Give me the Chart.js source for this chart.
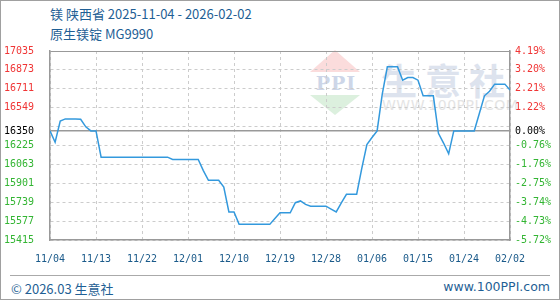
<!DOCTYPE html>
<html>
<head>
<meta charset="utf-8">
<script src="https://cdn.jsdelivr.net/npm/chart.js@4/dist/chart.umd.min.js"></script>
<style>
  html, body { margin: 0; padding: 0; background: #fff; }
  #page { position: relative; width: 560px; height: 300px; overflow: hidden; font-family: "Noto Sans CJK SC", "Noto Sans", sans-serif; }
  #frame { position: absolute; left: 0; top: 0; width: 558px; height: 298px; border: 1px solid #a0a0a0; z-index: 5; pointer-events: none; }
  .title { position: absolute; left: 50px; font-size: 13px; color: #1f5f95; white-space: nowrap; line-height: 16px; }
  #t1 { top: 6px; }
  #t2 { top: 26px; }
  #wm { position: absolute; left: 0; top: 0; width: 560px; height: 300px; z-index: 0; }
  .tri-up { position: absolute; left: 310px; top: 50px; width: 0; height: 0; border-left: 25px solid transparent; border-right: 25px solid transparent; border-bottom: 22px solid #fbdcdc; }
  .tri-down { position: absolute; left: 310px; top: 95px; width: 0; height: 0; border-left: 25px solid transparent; border-right: 25px solid transparent; border-top: 20px solid #dcf0de; }
  .ppi { position: absolute; left: 312px; top: 72px; width: 48px; text-align: center; font: bold 19px "DejaVu Serif", serif; color: #cdd6e8; letter-spacing: 1px; }
  .wmcn { position: absolute; left: 381px; top: 53px; font-size: 36px; font-weight: bold; color: #dde3ee; letter-spacing: 8px; white-space: nowrap; }
  .wmen { position: absolute; left: 382px; top: 97px; font: 14px "DejaVu Sans", sans-serif; color: #e4e4e4; letter-spacing: 0.5px; white-space: nowrap; }
  #chart { position: absolute; left: 0; top: 40px; z-index: 1; }
  #foot { position: absolute; left: 10px; top: 275px; width: 540px; height: 24px; border-top: 1px solid #aaa; font-size: 13px; color: #1f5f95; }
  #foot .l { position: absolute; left: 1px; top: 3px; }
  #foot .r { position: absolute; right: 0; top: 3px; font-family: "DejaVu Sans", sans-serif; font-size: 12.5px; }
</style>
</head>
<body>
<div id="page">
  <div id="wm">
    <div class="tri-up"></div>
    <div class="ppi">PPI</div>
    <div class="tri-down"></div>
    <div class="wmcn">生意社</div>
    <div class="wmen">WWW.100PPI.COM</div>
  </div>
  <div class="title" id="t1">镁 陕西省 2025-11-04 - 2026-02-02</div>
  <div class="title" id="t2">原生镁锭 MG9990</div>
  <canvas id="chart" width="560" height="230"></canvas>
  <div id="foot"><span class="l">© 2026.03 生意社</span><span class="r">www.100PPI.com</span></div>
  <div id="frame"></div>
</div>
<script>
// x tick labels (one every 9 days, 11/04 .. 02/02)
const xTickLabels = ['11/04', '11/13', '11/22', '12/01', '12/10', '12/19', '12/28', '01/06', '01/15', '01/24', '02/02'];

// daily price, 2025-11-04 .. 2026-02-02 (yuan/ton)
const prices = [
  16350, 16253, 16435, 16453, 16453, 16453, 16450, 16385, 16350, 16350,
  16125, 16125, 16125, 16125, 16125, 16125, 16125, 16125, 16125, 16125,
  16125, 16125, 16125, 16125, 16106, 16106, 16106, 16106, 16106, 16106,
  16010, 15927, 15927, 15927, 15869, 15656, 15656, 15549, 15549, 15549,
  15549, 15549, 15549, 15549, 15600, 15648, 15648, 15648, 15735, 15750,
  15720, 15705, 15705, 15705, 15705, 15680, 15656, 15734, 15807, 15807,
  15807, 16029, 16233, 16293, 16350, 16664, 16899, 16899, 16899, 16785,
  16807, 16807, 16785, 16651, 16651, 16651, 16330, 16246, 16154, 16350,
  16350, 16350, 16350, 16350, 16500, 16651, 16690, 16751, 16751, 16751,
  16700
];

// left axis ticks; 16387 is a grid line only, 16350 is the base line
const yTicks = [17035, 16873, 16711, 16549, 16387, 16350, 16225, 16063, 15901, 15739, 15577, 15415];
const baseValue = 16350;
const hiddenTick = 16387;

const red = '#f03535';
const green = '#33b533';
const blue = '#1a5a8a';

const tickColor = (ctx) => {
  const v = ctx.tick ? ctx.tick.value : 0;
  if (v > baseValue) return red;
  if (v === baseValue) return '#000';
  return green;
};

const monoFont = { family: 'DejaVu Sans Mono', size: 10 };

new Chart(document.getElementById('chart'), {
  type: 'line',
  data: {
    datasets: [{
      data: prices.map((v, i) => ({ x: i, y: v })),
      borderColor: '#3399dd',
      borderWidth: 1.5,
      pointRadius: 0,
      fill: false,
      tension: 0,
    }],
  },
  options: {
    responsive: false,
    animation: false,
    devicePixelRatio: 1,
    layout: { padding: { left: 4, right: 0, top: 9.5, bottom: 0 } },
    plugins: { legend: { display: false }, tooltip: { enabled: false } },
    scales: {
      x: {
        type: 'linear',
        min: 0,
        max: prices.length - 1,
        afterBuildTicks: (scale) => {
          scale.ticks = xTickLabels.map((_, i) => ({ value: i * 9 }));
        },
        afterFit: (scale) => { scale.height = 30; },
        ticks: {
          autoSkip: false,
          maxRotation: 0,
          padding: 13,
          color: blue,
          font: monoFont,
          callback: (v) => xTickLabels[Math.round(v / 9)],
        },
        grid: { color: '#cccccc', lineWidth: 1, drawTicks: false },
        border: { color: '#999', width: 1.5, dash: (ctx) => ctx.tick ? [3, 3] : [] },
      },
      y: {
        position: 'left',
        min: 15415,
        max: 17035,
        afterBuildTicks: (scale) => {
          scale.ticks = yTicks.map(v => ({ value: v }));
        },
        afterFit: (scale) => { scale.width = 46; },
        ticks: {
          crossAlign: 'far',
          color: tickColor,
          font: monoFont,
          callback: (v) => v === hiddenTick ? '' : String(v),
        },
        grid: {
          drawTicks: false,
          color: (ctx) => {
            const v = ctx.tick ? ctx.tick.value : 0;
            return (v === baseValue || v === 17035) ? '#999' : '#cccccc';
          },
          lineWidth: (ctx) => (ctx.tick && ctx.tick.value === baseValue) ? 1.5 : 1,
        },
        border: {
          color: '#999',
          width: 1.5,
          dash: (ctx) => (ctx.tick && ctx.tick.value !== baseValue && ctx.tick.value !== 17035) ? [3, 3] : [],
        },
      },
      y2: {
        position: 'right',
        min: 15415,
        max: 17035,
        afterBuildTicks: (scale) => {
          scale.ticks = yTicks.map(v => ({ value: v }));
        },
        afterFit: (scale) => { scale.width = 50; },
        ticks: {
          padding: 5,
          color: tickColor,
          font: monoFont,
          callback: (v) => v === hiddenTick ? '' : ((v - baseValue) / baseValue * 100).toFixed(2) + '%',
        },
        grid: { drawOnChartArea: false, drawTicks: false },
        border: { color: '#999', width: 1.5 },
      },
    },
  },
});
</script>
</body>
</html>
